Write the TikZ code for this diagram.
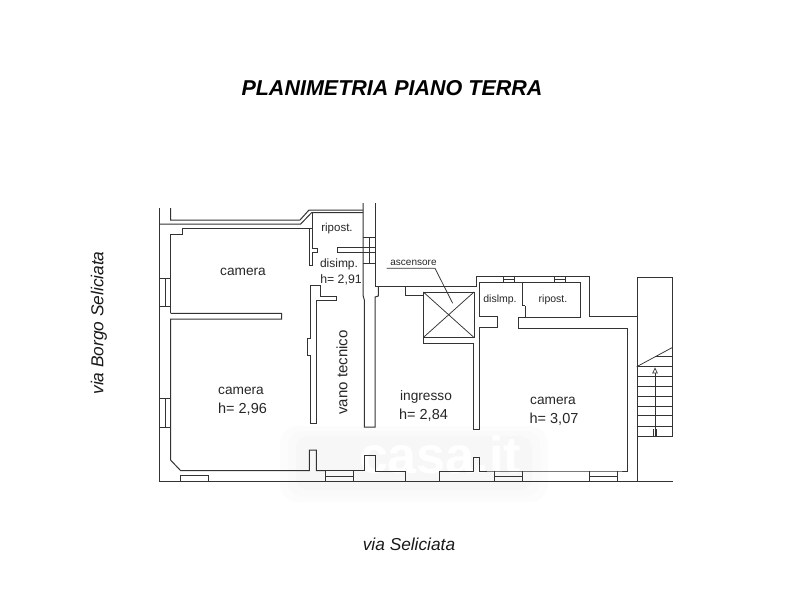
\documentclass[tikz,border=0pt]{standalone}
\usepackage{fontspec}
\setmainfont{Liberation Sans}
\definecolor{wallc}{gray}{0.2}
\tikzset{
  wall/.style={draw=wallc,line width=1pt,line join=miter},
  thin wall/.style={draw=wallc,line width=0.75pt},
  lbl/.style={inner sep=0pt,text=black!85,font=\fontsize{13.7}{16}\selectfont,align=center},
  small lbl/.style={inner sep=0pt,text=black!85,font=\fontsize{11.5}{13}\selectfont},
  room h/.style={inner sep=0pt,text=black!85,font=\fontsize{14.5}{16}\selectfont},
  streetlbl/.style={inner sep=0pt,text=black!90,font=\fontsize{17.3}{20}\selectfont\itshape},
}
\begin{document}
\begin{tikzpicture}[x=1pt,y=-1pt]
\useasboundingbox (0,0) rectangle (800,600);
% watermark
\fill[black!1,rounded corners=18pt] (280,426) rectangle (548,502);
\fill[black!2,rounded corners=14pt] (288,431) rectangle (540,496);
\fill[black!3,rounded corners=12pt] (296,436) rectangle (532,490);
\node[inner sep=0pt,text=white,font=\fontsize{52}{52}\selectfont\bfseries] (mark) at (440,455) {casa.it};
% titles
\node[inner sep=0pt,text=black,font=\fontsize{21.5}{24}\selectfont\bfseries\itshape] (title) at (392,88) {PLANIMETRIA PIANO TERRA};
\node[streetlbl,rotate=90] (viaB) at (99,323) {via Borgo Seliciata};
\node[streetlbl] (viaS) at (409,544) {via Seliciata};
% outer left + bottom
\draw[wall] (159.5,208) -- (159.5,481) -- (673,481);
\draw[wall] (170.5,208) -- (170.5,220) -- (300,220) -- (309,210) -- (363,210);
\draw[wall] (159.5,224) -- (300.7,224) -- (311.7,212.5) -- (363,212.5);
\draw[wall] (170.5,313.3) -- (170.5,234) -- (182,234) -- (182,228) -- (312,228);
\draw[wall] (312,212.5) -- (312,248) -- (317.7,248) -- (317.7,252) -- (312,252) -- (312,265) -- (309.3,265) -- (309.3,228);
% camera divider
\draw[wall] (170.5,313.3) -- (281.7,313.3) -- (281.7,319) -- (170.5,319) -- (170.5,460) -- (180.7,470.7)
  -- (309.3,470.7) -- (309.3,450) -- (316.3,450) -- (316.3,470.7) -- (325,470.7);
% windows left
\draw[wall] (160,278) -- (170.5,278) (160,306.7) -- (170.5,306.7) (160,398.3) -- (170.5,398.3) (160,427) -- (170.5,427);
\draw[thin wall] (165,278) -- (165,306.7) (165,398.3) -- (165,427);
% bottom windows
\draw[wall] (180.7,481) -- (180.7,475.7) -- (208.3,475.7) -- (208.3,481);
\draw[wall] (325,470.7) -- (325,481) (325,476) -- (353.3,476) (353.3,481) -- (353.3,471);
\draw[wall] (325,470.7) -- (353.3,470.7) -- (364.3,470.7) -- (364.3,455.7) -- (375,455.7) -- (375,471) -- (405.7,471) -- (405.7,481);
\draw[wall] (439.3,481) -- (439.3,471) -- (473.3,471) -- (473.3,457.3) -- (479.7,457.3) -- (479.7,471) -- (494.3,471) -- (522.7,471) -- (589.3,471) -- (617.3,471) -- (627.3,471) -- (627.3,328) -- (518.3,328) -- (518.3,317.3) -- (525,317.3) -- (525,305.7);
\draw[wall] (494.3,471) -- (494.3,481) (494.3,476) -- (522.7,476) (522.7,471) -- (522.7,481);
\draw[wall] (589.3,471) -- (589.3,481) (589.3,476) -- (617.3,476) (617.3,471) -- (617.3,481);
% vano tecnico left wall
\draw[wall] (310,285.7) -- (320.7,285.7) -- (320.7,296.7) -- (336.7,296.7) -- (336.7,300.7) -- (316.3,300.7) -- (316.3,423) -- (310,423) -- (310,355) -- (307.3,355) -- (307.3,338) -- (310,338) -- cycle;
% vano tecnico right wall
\draw[wall] (363,203) -- (363,295) -- (364.3,300) -- (364.3,427) -- (375,427) -- (375,297) -- (378.3,296) -- (378.3,286.7);
\draw[wall] (375,203) -- (375,286.7) -- (476,286.7) -- (476,276.7) -- (589,276.7) -- (589,316.7) -- (636.7,316.7);
% disimp stub + window
\draw[wall] (363,247) -- (337.7,247) -- (337.7,252) -- (363,252);
\draw[wall] (363,237) -- (375,237) (363,263) -- (375,263);
\draw[thin wall] (369,237) -- (369,263) (363,247) -- (375,247) (363,252) -- (375,252);
% lift
\draw[wall] (405,286.7) -- (405,295) -- (423.3,295);
\draw[wall] (423.3,292) rectangle (474,337.5);
\draw[wall] (423.3,292) -- (423.3,343) -- (473.3,343) -- (473.3,429.3) -- (479,429.3) -- (479,327.7) -- (497.3,327.7) -- (497.3,316.7) -- (479,316.7) -- (479,282.3) -- (580,282.3) -- (580,317) -- (525,317);
\coordinate (liftA) at (423.3,292);
\coordinate (liftB) at (474,337.5);
\coordinate (liftC) at (474,292);
\coordinate (liftD) at (423.3,337.5);
\draw[thin wall] (liftA) -- (liftB) (liftC) -- (liftD);
\draw[wall] (522.3,282.3) -- (522.3,305.7) -- (525,305.7);
% top windows
\draw[wall] (503.3,276.7) -- (503.3,282.3) (514.3,276.7) -- (514.3,282.3) (554.3,276.7) -- (554.3,282.3) (565,276.7) -- (565,282.3);
\draw[thin wall] (503.3,279.5) -- (514.3,279.5) (554.3,279.5) -- (565,279.5);
% stair
\draw[wall] (637.3,481) -- (637.3,277.3) -- (672.7,277.3) -- (672.7,436) -- (637.3,436);
\foreach \yy in {366.7,376.7,386.7,396.7,406,415.7,426} \draw[thin wall] (637.3,\yy) -- (672.7,\yy);
\draw[thin wall] (636.7,366.7) -- (672.7,347.3);
\draw[thin wall] (655,356.7) -- (672.7,356.7);
\draw[thin wall] (655,373) -- (655,436) (653.5,429) -- (653.5,436) (656.5,429) -- (656.5,436);
\draw[thin wall,fill=white] (655,368.3) -- (652.7,373) -- (657.3,373) -- cycle;
% labels
\node[lbl] (r1) at (243,272) {camera};
\node[small lbl] (r2) at (337,229) {ripost.};
\node[small lbl,font=\fontsize{12}{13}\selectfont] (r3) at (339,264) {disimp.};
\node[small lbl,font=\fontsize{12.3}{13}\selectfont] (r4) at (341,280) {h= 2,91};
\node[lbl] (r5) at (241,391) {camera};
\node[room h] (r6) at (242.5,409) {h= 2,96};
\node[lbl,rotate=90,font=\fontsize{15}{16}\selectfont] (r7) at (342,372.5) {vano tecnico};
\node[lbl] (r8) at (426,397) {ingresso};
\node[room h] (r9) at (423.5,415) {h= 2,84};
\node[lbl] (r10) at (553,401) {camera};
\node[room h] (r11) at (554,419) {h= 3,07};
\node[small lbl,font=\fontsize{10.5}{13}\selectfont] (r12) at (500,300) {dislmp.};
\node[small lbl,font=\fontsize{10.5}{13}\selectfont] (r13) at (553,300) {ripost.};
\node[inner sep=0pt,text=black!85,font=\fontsize{10}{11}\selectfont] (asc) at (413.5,263) {ascensore};
\coordinate (ascL) at (386.7,268.3);
\coordinate (ascR) at (435,268.3);
\coordinate (ascT) at (452.7,303.3);
\draw[thin wall] (ascL) -- (ascR) -- (ascT);
\end{tikzpicture}
\end{document}
